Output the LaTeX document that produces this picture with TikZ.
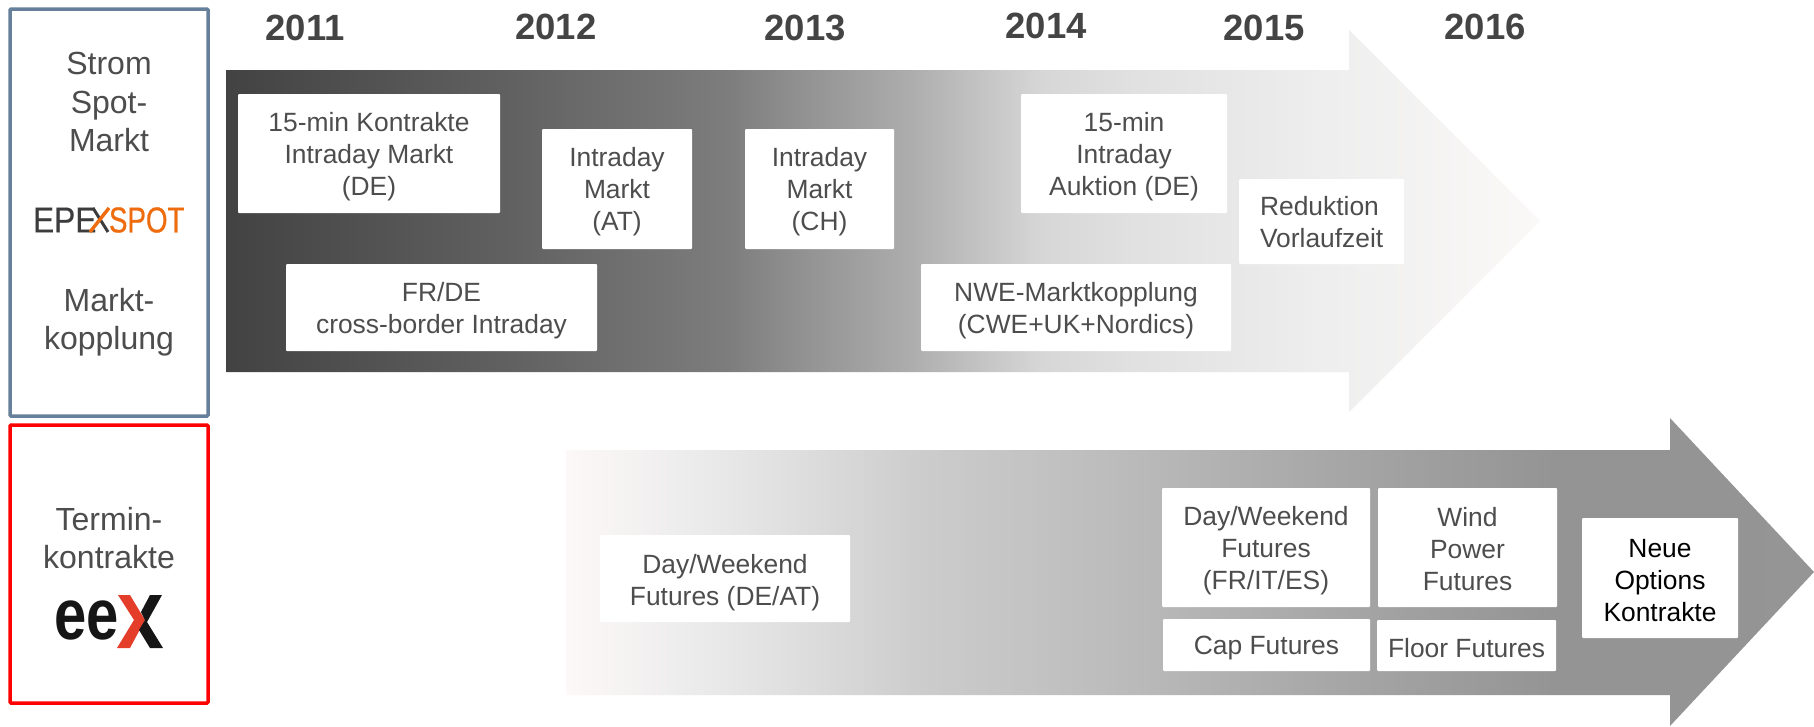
\documentclass[tikz,border=0pt]{standalone}
\usepackage{fontspec}
\setmainfont{Liberation Sans}
\definecolor{txt}{HTML}{4D4D4D}
\definecolor{yr}{HTML}{444444}
\definecolor{spotblue}{HTML}{66809B}
\definecolor{orangelogo}{HTML}{EE6C0E}
\definecolor{darklogo}{HTML}{3C3C3E}
\definecolor{eexred}{HTML}{E43D2A}
\definecolor{eexblack}{HTML}{161616}
\definecolor{startpink}{HTML}{FDF8F8}
\definecolor{endwarm}{HTML}{FBF9F8}
% stops: the path bounding box maps onto 25bp..75bp
\pgfdeclarehorizontalshading{topgrad}{100bp}{
 color(0bp)=(black!74);
 color(25bp)=(black!74);
 color(35.8bp)=(black!62);
 color(44.1bp)=(black!51);
 color(46.9bp)=(black!43);
 color(51.1bp)=(black!32);
 color(53.8bp)=(black!23);
 color(56bp)=(black!16);
 color(59.4bp)=(black!12);
 color(66.3bp)=(black!7);
 color(75bp)=(endwarm);
 color(100bp)=(endwarm)}
\pgfdeclarehorizontalshading{botgrad}{100bp}{
 color(0bp)=(startpink);
 color(25bp)=(startpink);
 color(30.5bp)=(black!8);
 color(34.3bp)=(black!13);
 color(39.3bp)=(black!20);
 color(46.6bp)=(black!26);
 color(53.9bp)=(black!33);
 color(59.7bp)=(black!38);
 color(64.7bp)=(black!42);
 color(100bp)=(black!41)}
\tikzset{
 every node/.style={inner sep=0pt,outer sep=0pt},
 whitebox/.style={fill=white,rounded corners=1pt,text=txt,align=center,font=\fontsize{26.4}{32}\selectfont},
 year/.style={text=yr,font=\fontsize{36.5}{40}\bfseries\selectfont},
 sidelabel/.style={text=txt,align=center,font=\fontsize{32}{38.5}\selectfont},
 sidebox/.style={line width=3.5pt,rounded corners=1pt,fill=white},
 logotext/.style={anchor=west,font=\fontsize{36}{36}\selectfont\addfontfeature{FakeBold=0.6}},
}
\newcommand{\wbox}[7][yshift=-3pt]{\path[whitebox] (#3,#4) rectangle (#5,#6) node[midway,#1,name=#2,align=center] {#7};}
\begin{document}
\begin{tikzpicture}[x=1pt,y=-1pt]
\useasboundingbox (0,0) rectangle (1814,726);
\fill[white] (0,0) rectangle (1814,726);
% arrows
\path[shading=topgrad] (226,70) -- (1349,70) -- (1349,30) -- (1540,221) -- (1349,412) -- (1349,372) -- (226,372) -- cycle;
\path[shading=botgrad] (566,450) -- (1670,450) -- (1670,418) -- (1814,572) -- (1670,726) -- (1670,695) -- (566,695) -- cycle;
% side boxes
\node[sidebox,draw=spotblue,minimum width=198pt,minimum height=407pt,anchor=north west] (spotframe) at (10,9) {};
\node[sidebox,draw=red,minimum width=198pt,minimum height=278pt,anchor=north west] (termframe) at (10,425) {};
\node[sidelabel,anchor=center] (strom) at (109,102) {Strom\\Spot-\\Markt};
\node[sidelabel,anchor=center] (markt) at (109,322) {Markt-\\kopplung};
\node[sidelabel,anchor=center] (termin) at (109,538) {Termin-\\kontrakte};
% EPEX logo
\node[logotext,text=darklogo,xscale=0.88] (epe) at (33,220) {EPE};
\node[logotext,text=orangelogo,xscale=0.77] (spot) at (109,220) {SPOT};
\draw[darklogo,line width=3pt] (93,208) -- (108,232);
\draw[orangelogo,line width=3.4pt] (109,208) -- (90,232);
% EEX logo
\node[anchor=base west,text=eexblack,font=\fontsize{58}{58}\selectfont\bfseries,yscale=1.24] (ee) at (54,639) {ee};
\fill[eexred] (118,595) -- (130,595) -- (145,620) -- (130,648) -- (117,648) -- (134,620) -- cycle;
\fill[eexblack] (150,595) -- (162,595) -- (147,622) -- (163,648) -- (150,648) -- (139,630) -- (145,620) -- (141,612) -- cycle;
% years
\node[year] (y11) at (305,28) {2011};
\node[year] (y12) at (556,27) {2012};
\node[year] (y13) at (805,28) {2013};
\node[year] (y14) at (1046,26) {2014};
\node[year] (y15) at (1264,28) {2015};
\node[year] (y16) at (1485,27) {2016};
% boxes
\wbox{a}{238}{94}{500}{213}{15-min Kontrakte\\Intraday Markt\\(DE)}
\wbox{b}{286}{264}{597}{351}{FR/DE\\cross-border Intraday}
\wbox{c}{542}{129}{692}{249}{Intraday\\Markt\\(AT)}
\wbox{d}{745}{129}{894}{249}{Intraday\\Markt\\(CH)}
\wbox{e}{1021}{94}{1227}{213}{15-min\\Intraday\\Auktion (DE)}
\wbox{f}{921}{264}{1231}{351}{NWE-Marktkopplung\\(CWE+UK+Nordics)}
\path[whitebox] (1239,179) rectangle (1404,264);
\node[anchor=west,text=txt,align=left,font=\fontsize{26.4}{32}\selectfont] (g) at (1260,222) {Reduktion\\Vorlaufzeit};
\wbox[yshift=-4pt]{h}{600}{535}{850}{622}{Day/Weekend\\Futures (DE/AT)}
\wbox{i}{1162}{488}{1370}{607}{Day/Weekend\\Futures\\(FR/IT/ES)}
\wbox[yshift=-2pt]{j}{1378}{488}{1557}{607}{Wind\\Power\\Futures}
\wbox{k}{1163}{619}{1370}{671}{Cap Futures}
\wbox{l}{1377}{620}{1556}{671}{Floor Futures}
\path[whitebox] (1582,518) rectangle (1738,638) node[midway,yshift=-3pt,name=m,align=center,text=black] {Neue\\Options\\Kontrakte};
\end{tikzpicture}
\end{document}
